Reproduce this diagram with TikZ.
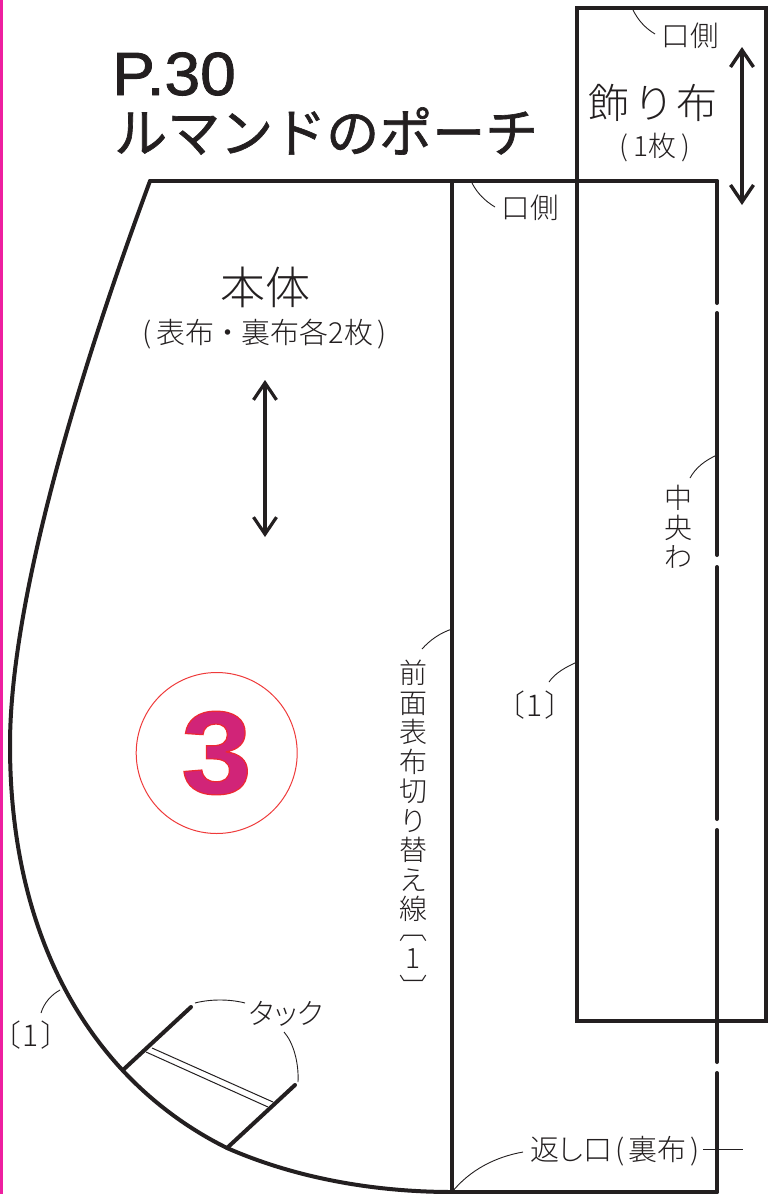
\documentclass[tikz,border=0pt]{standalone}
\usepackage{fontspec}
\usetikzlibrary{arrows.meta}
\setmainfont{Liberation Sans}
\newfontfamily\jp{Noto Sans CJK JP Light}[RawFeature=+palt]
\newfontfamily\jpfull{Noto Sans CJK JP Light}
\newfontfamily\jptitle{Noto Sans CJK JP}[FakeBold=1.2]
\newfontfamily\lattitle{Liberation Sans}[FakeBold=1.4]
\newfontfamily\numfont{Liberation Sans}[UprightFont={* Bold},FakeBold=1]
\definecolor{ink}{HTML}{231F20}
\definecolor{pinkline}{HTML}{EE1FA0}
\definecolor{circred}{HTML}{EE3A3A}
\tikzset{
  seam/.style={draw=ink,line width=4pt,line cap=round,line join=miter},
  tuck/.style={draw=ink,line width=4pt,line cap=round},
  leader/.style={draw=ink,line width=0.9pt},
  thinline/.style={draw=ink,line width=1pt},
  grain/.style={draw=ink,{Straight Barb[length=17pt,width=23pt]}-{Straight Barb[length=17pt,width=23pt]}},
  lab/.style={inner sep=0pt,text=ink,font=\jp\fontsize{#1}{#1}\selectfont},
  lab/.default=27,
  vlab/.style n args={2}{inner sep=0pt,text=ink,align=center,font=\jpfull\fontsize{#1}{#2}\selectfont},
}
\begin{document}
\begin{tikzpicture}[x=1pt,y=-1pt]
\useasboundingbox (0,0) rectangle (768,1194);
\fill[pinkline] (0,0) rectangle (3,1194);
% named points
\coordinate (bodyA) at (150,181);
\coordinate (bodyB) at (10,745);
\coordinate (tuckA) at (123,1070);
\coordinate (tuckB) at (227,1148);
\coordinate (bodyC) at (452,1192);
\coordinate (topR) at (717,181);
\coordinate (topM) at (452,181);
\coordinate (botR) at (717,1192);
% outline
\draw[seam] (bodyA) .. controls (80,370) and (10,600) .. (bodyB)
  .. controls (10,950) and (100,1085) .. (tuckB)
  .. controls (300,1180) and (380,1192) .. (bodyC);
\draw[seam] (bodyA) -- (topR);
\draw[seam] (topM) -- (bodyC) -- (botR);
\draw[seam] (577,8) rectangle (766,1021);
\coordinate (g1s) at (717,313); \coordinate (g1e) at (717,303);
\coordinate (g2s) at (717,567); \coordinate (g2e) at (717,555);
\coordinate (g3s) at (717,830); \coordinate (g3e) at (717,819);
\coordinate (g4s) at (717,1073); \coordinate (g4e) at (717,1062);
\draw[seam] (topR) -- (g1e);
\draw[seam] (g1s) -- (g2e);
\draw[seam] (g2s) -- (g3e);
\draw[seam] (g3s) -- (g4e);
\draw[seam] (g4s) -- (botR);
% tucks
\coordinate (t1e) at (191,1007);
\coordinate (t2e) at (295,1085);
\draw[tuck] (tuckA) -- (t1e);
\draw[tuck] (tuckB) -- (t2e);
\coordinate (d1a) at (152,1048); \coordinate (d1b) at (273,1102);
\coordinate (d2a) at (146,1052); \coordinate (d2b) at (268,1107);
\draw[thinline] (d1a) -- (d1b);
\draw[thinline] (d2a) -- (d2b);
% grain arrows
\coordinate (ga1) at (742,47); \coordinate (ga2) at (742,205);
\coordinate (gb1) at (265,380); \coordinate (gb2) at (265,537);
\draw[grain,line width=3.4pt] (ga1) -- (ga2);
\draw[grain,line width=3.2pt] (gb1) -- (gb2);
% circle
\node[circle,draw=circred,line width=1pt,minimum size=161pt,inner sep=0pt] (circ) at (216.7,753) {};
\node[inner sep=0pt,xscale=1.08,transform shape] (three) at (216.5,753) {\numfont\fontsize{118}{118}\selectfont\special{pdf:bcolor [0.82 0.14 0.47] [0.93 0.16 0.2]}3\special{pdf:ecolor}};
% title
\node[anchor=west,inner sep=0pt,text=ink,xscale=1.05,transform shape,font=\lattitle\fontsize{61}{61}\selectfont] (t1) at (112,74) {P.30};
\node[anchor=west,inner sep=0pt,text=ink,font=\jptitle\fontsize{53}{53}\selectfont] (t2) at (114,131) {ルマンドのポーチ};
% labels
\node[lab=28.5] (kuchi1) at (690,36) {口側};
\node[lab=28.5] (kuchi2) at (530,208) {口側};
\node[lab=41] (kazari) at (653,103) {飾\,り\,布};
\node[lab=28] (ichimai) at (655,148) {(\hspace{5pt}1枚\hspace{5pt})};
\node[lab=45] (hontai) at (265,287) {本体};
\node[lab=29] (omote) at (265,334) {(\hspace{5pt}表布\hspace{6pt}・\hspace{6pt}裏布各2枚\hspace{5pt})};
\node[lab=29] (tack) at (286,1014) {タック};
\node[lab=29] (kaeshi) at (615,1151) {返し口\hspace{3pt}(\hspace{4pt}裏布\hspace{4pt})};
\node[lab=30] (one1) at (31,1035) {〔\hspace{2.5pt}1\hspace{2.5pt}〕};
\node[lab=30] (one2) at (535,705) {〔\hspace{2.5pt}1\hspace{2.5pt}〕};
\node[vlab={28}{29.5}] (chuo) at (678,527) {中\\央\\わ};
\node[vlab={28}{29.5}] (sen) at (413,829) {前\\面\\表\\布\\切\\り\\替\\え\\線\\[-10pt]︹\\1\\︺};
% leaders
\coordinate (l1a) at (633,10); \coordinate (l1b) at (655,34);
\coordinate (l2a) at (472,183); \coordinate (l2b) at (495,207);
\coordinate (l3a) at (422,649); \coordinate (l3b) at (452,629);
\coordinate (l4a) at (549,682); \coordinate (l4b) at (577,662);
\coordinate (l5a) at (690,478); \coordinate (l5b) at (717,455);
\coordinate (l6a) at (452,1192); \coordinate (l6b) at (523,1152);
\coordinate (l7a) at (703,1149); \coordinate (l7b) at (743,1149);
\coordinate (l8a) at (41,1013); \coordinate (l8b) at (60,990);
\coordinate (l9a) at (195,1003); \coordinate (l9b) at (245,1003);
\coordinate (l10a) at (284,1032); \coordinate (l10b) at (298,1082);
\draw[leader] (l1a) .. controls (638,20) and (645,28) .. (l1b);
\draw[leader] (l2a) .. controls (477,193) and (485,201) .. (l2b);
\draw[leader] (l3a) .. controls (430,640) and (440,633) .. (l3b);
\draw[leader] (l4a) .. controls (555,673) and (566,667) .. (l4b);
\draw[leader] (l5a) .. controls (696,467) and (706,460) .. (l5b);
\draw[leader] (l6a) .. controls (470,1170) and (495,1157) .. (l6b);
\draw[leader] (l7a) -- (l7b);
\draw[leader] (l8a) .. controls (44,1003) and (51,995) .. (l8b);
\draw[leader] (l9a) .. controls (210,999) and (230,999) .. (l9b);
\draw[leader] (l10a) .. controls (293,1042) and (299,1062) .. (l10b);
\end{tikzpicture}
\end{document}
